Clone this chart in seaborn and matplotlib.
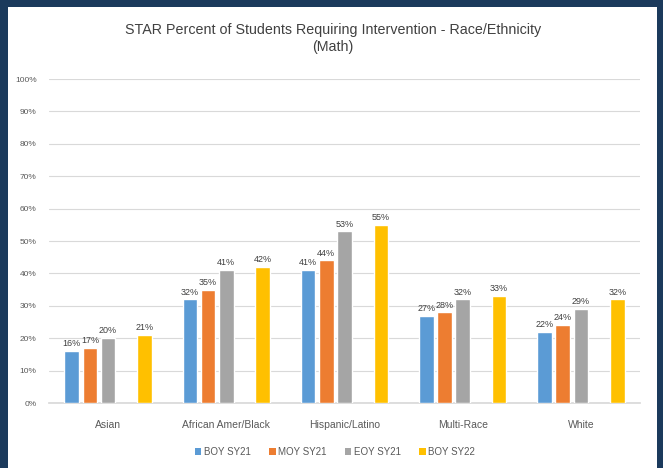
import matplotlib
matplotlib.use("Agg")
import matplotlib.pyplot as plt
from matplotlib.patches import Rectangle, Patch
import seaborn as sns
import pandas as pd

categories = ["Asian", "African Amer/Black", "Hispanic/Latino", "Multi-Race", "White"]
boy_sy21 = [16, 32, 41, 27, 22]
moy_sy21 = [17, 35, 44, 28, 24]
eoy_sy21 = [20, 41, 53, 32, 29]
boy_sy22 = [21, 42, 55, 33, 32]
series_names = ["BOY SY21", "MOY SY21", "EOY SY21", "BOY SY22"]
colors = ["#5B9BD5", "#ED7D31", "#A5A5A5", "#FFC000"]
yticks = [0, 10, 20, 30, 40, 50, 60, 70, 80, 90, 100]

rows = []
for name, vals in zip(series_names, [boy_sy21, moy_sy21, eoy_sy21, boy_sy22]):
    for c, v in zip(categories, vals):
        rows.append({"Group": c, "Series": name, "Value": v})
df = pd.DataFrame(rows)

sns.set_theme(style="white")
plt.rcParams["font.family"] = ["Liberation Sans", "DejaVu Sans"]

fig = plt.figure(figsize=(6.63, 4.68), dpi=100)
fig.patch.set_facecolor("#1B3A5C")
fig.patches.append(Rectangle((8 / 663, 0), (657 - 8) / 663, 1 - 7 / 468,
                             transform=fig.transFigure, facecolor="white",
                             edgecolor="none", zorder=-5))

ax = fig.add_axes([49 / 663, 1 - 403 / 468, (640 - 49) / 663, (403 - 79) / 468])
ax.set_zorder(2)
ax.set_facecolor("white")

hue_order = ["BOY SY21", "MOY SY21", "EOY SY21", "(blank)", "BOY SY22"]
palette = {"BOY SY21": colors[0], "MOY SY21": colors[1], "EOY SY21": colors[2],
           "(blank)": "white", "BOY SY22": colors[3]}

sns.barplot(data=df, x="Group", y="Value", hue="Series", order=categories,
            hue_order=hue_order, palette=palette, width=0.77, gap=0.2,
            saturation=1, errorbar=None, legend=False, ax=ax, zorder=3)

for cont in ax.containers:
    ax.bar_label(cont, fmt="%.0f%%", fontsize=6.5, color="#404040", padding=2)

ax.set_ylim(0, 100)
ax.set_yticks(yticks)
ax.set_yticklabels([f"{t}%" for t in yticks], fontsize=6, color="#595959")
ax.yaxis.grid(True, color="#D9D9D9", linewidth=0.8, zorder=0)
ax.set_axisbelow(True)
for s in ["top", "right", "left"]:
    ax.spines[s].set_visible(False)
ax.spines["bottom"].set_color("#D9D9D9")
ax.tick_params(axis="x", labelsize=7.5, colors="#595959", length=0, pad=12)
ax.tick_params(axis="y", length=0, pad=9)
ax.set_xlabel("")
ax.set_ylabel("")
ax.set_xlim(-0.5, len(categories) - 0.5)

fig.text(333 / 663, 1 - 30 / 468, "STAR Percent of Students Requiring Intervention - Race/Ethnicity",
         ha="center", va="center", fontsize=10.3, color="#404040")
fig.text(333 / 663, 1 - 47 / 468, "(Math)", ha="center", va="center",
         fontsize=10.3, color="#404040")

handles = [Patch(facecolor=c, edgecolor="none") for c in colors]
fig.legend(handles, series_names, loc="center", bbox_to_anchor=(335 / 663, 1 - 452 / 468),
           ncol=4, frameon=False, fontsize=7, handlelength=0.7, handleheight=0.7,
           handletextpad=0.3, columnspacing=1.8, labelcolor="#595959")

fig.savefig("out.png", dpi=100, facecolor=fig.get_facecolor())
